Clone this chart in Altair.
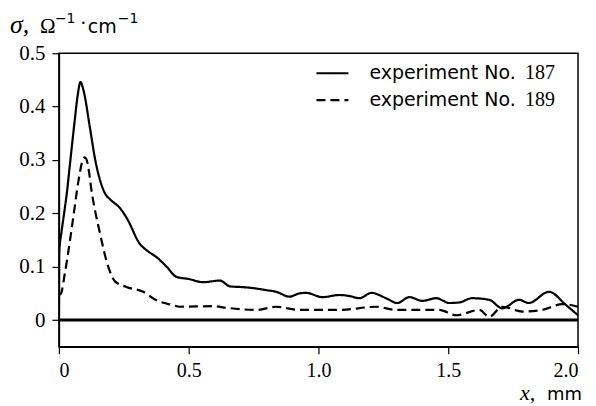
import altair as alt
import pandas as pd

# experiment No. 187 (solid)
x187 = [0.0, 0.001, 0.01, 0.02, 0.031, 0.042, 0.06, 0.072, 0.083, 0.095, 0.119, 0.14, 0.158,
        0.177, 0.2, 0.235, 0.265, 0.31, 0.34, 0.376, 0.415, 0.453, 0.5, 0.555, 0.62, 0.66,
        0.7, 0.747, 0.8, 0.837, 0.888, 0.927, 0.953, 1.015, 1.08, 1.12, 1.158, 1.204, 1.26,
        1.304, 1.35, 1.4, 1.454, 1.504, 1.542, 1.592, 1.658, 1.708, 1.773, 1.81, 1.888,
        1.954, 2.0]
y187 = [0.0, 0.126, 0.165, 0.2, 0.24, 0.29, 0.37, 0.42, 0.446, 0.43, 0.362, 0.3, 0.263,
        0.238, 0.225, 0.21, 0.188, 0.144, 0.13, 0.118, 0.1, 0.081, 0.077, 0.071, 0.074, 0.063,
        0.062, 0.06, 0.056, 0.053, 0.044, 0.05, 0.051, 0.043, 0.047, 0.045, 0.041, 0.051, 0.041,
        0.032, 0.043, 0.036, 0.041, 0.032, 0.033, 0.041, 0.038, 0.022, 0.038, 0.032, 0.053,
        0.028, 0.009]

# experiment No. 189 (dashed)
x189 = [0.0, 0.008, 0.023, 0.054, 0.075, 0.092, 0.1, 0.11, 0.127, 0.158, 0.19, 0.215, 0.26,
        0.325, 0.376, 0.44, 0.465, 0.594, 0.645, 0.76, 0.837, 0.927, 0.965, 1.08, 1.223, 1.3,
        1.465, 1.53, 1.62, 1.658, 1.708, 1.785, 1.862, 1.94, 2.0]
y189 = [0.047, 0.05, 0.088, 0.188, 0.26, 0.3, 0.305, 0.295, 0.238, 0.163, 0.1, 0.073, 0.062,
        0.053, 0.037, 0.028, 0.025, 0.026, 0.023, 0.019, 0.025, 0.019, 0.019, 0.019, 0.025, 0.019,
        0.019, 0.009, 0.019, 0.006, 0.025, 0.016, 0.019, 0.03, 0.025]

series_names = ["187", "189"]
x_ticks = [0, 0.5, 1.0, 1.5, 2.0]
y_ticks = [0, 0.1, 0.2, 0.3, 0.4, 0.5]

rows = []
for name, xs, ys in [(series_names[0], x187, y187), (series_names[1], x189, y189)]:
    for i, (a, b) in enumerate(zip(xs, ys)):
        rows.append({"x": a, "y": b, "series": name, "idx": i})
df = pd.DataFrame(rows)

W, H = 520, 294
SERIF = "'Liberation Serif', 'DejaVu Serif', 'Times New Roman', serif"
SANS = "'DejaVu Sans', sans-serif"

xscale = alt.Scale(domain=[0, 2], nice=False, zero=False)
yscale = alt.Scale(domain=[-0.05, 0.5], nice=False, zero=False)

lab = "datum.value == 0 ? '0' : format(datum.value, '.1f')"

lines = alt.Chart(df).mark_line(color="black", strokeWidth=2.2, clip=True,
                                interpolate="monotone").encode(
    x=alt.X("x:Q", scale=xscale,
            axis=alt.Axis(values=x_ticks, labelExpr=lab, title=None, grid=False,
                          domainColor="black", domainWidth=1.5, tickColor="black",
                          tickSize=7, tickWidth=1.2, labelFont=SERIF, labelFontSize=20,
                          labelColor="black", labelPadding=7)),
    y=alt.Y("y:Q", scale=yscale,
            axis=alt.Axis(values=y_ticks, labelExpr=lab, title=None, grid=False,
                          domainColor="black", domainWidth=1.5, tickColor="black",
                          tickSize=7, tickWidth=1.2, labelFont=SERIF, labelFontSize=21,
                          labelColor="black", labelPadding=7)),
    strokeDash=alt.StrokeDash("series:N", scale=alt.Scale(domain=series_names,
                                                          range=[[1, 0], [9, 5]]),
                              legend=None),
    detail="series:N",
    order="idx:Q",
)

zero_df = pd.DataFrame({"y": [0.0]})
zero = alt.Chart(zero_df).mark_rule(color="black", strokeWidth=3).encode(
    y=alt.Y("y:Q", scale=yscale), x=alt.value(0), x2=alt.value(W))

# legend
leg_df = pd.DataFrame({"series": series_names, "ypx": [20, 47],
                       "label": ["experiment No.", "experiment No."]})
leg_lines = alt.Chart(leg_df).mark_rule(color="black", strokeWidth=2.2).encode(
    x=alt.value(258), x2=alt.value(290), y=alt.Y("ypx:Q", scale=None),
    strokeDash=alt.StrokeDash("series:N", scale=alt.Scale(domain=series_names,
                                                          range=[[1, 0], [7, 5]]),
                              legend=None))
leg_text = alt.Chart(leg_df).mark_text(align="left", baseline="middle", font=SANS,
                                       fontSize=19, color="black").encode(
    x=alt.value(311), y=alt.Y("ypx:Q", scale=None), text="label:N")
leg_num = alt.Chart(leg_df).mark_text(align="left", baseline="middle", font=SERIF,
                                      fontSize=20, color="black").encode(
    x=alt.value(467), y=alt.Y("ypx:Q", scale=None), text="series:N")

# axis titles
def txt(s, x, y, font, size, italic=False):
    props = dict(align="left", baseline="alphabetic", font=font, fontSize=size,
                 color="black", text=s)
    if italic:
        props["fontStyle"] = "italic"
    return alt.Chart(pd.DataFrame({"a": [0]})).mark_text(**props).encode(
        x=alt.value(x), y=alt.value(y))

ttl = [
    txt("σ,", -49, -20, SERIF, 26, italic=True),
    txt("Ω", -19, -20, SERIF, 21),
    txt("−1", -4, -30, SANS, 14),
    txt("·", 21, -23, SERIF, 20),
    txt("cm", 29, -20, SANS, 19),
    txt("−1", 59, -30, SANS, 14),
    txt("x,", 462, 347, SERIF, 22, italic=True),
    txt("mm", 489, 347, SANS, 18),
]

chart = alt.layer(zero, lines, leg_lines, leg_text, leg_num, *ttl).properties(
    width=W, height=H,
    autosize=alt.AutoSizeParams(type="none"),
    padding={"left": 51, "top": 45, "right": 10, "bottom": 58},
).configure_view(stroke="black", strokeWidth=1.5)

chart.save("out.html", embed_options={"renderer": "svg", "actions": False})
